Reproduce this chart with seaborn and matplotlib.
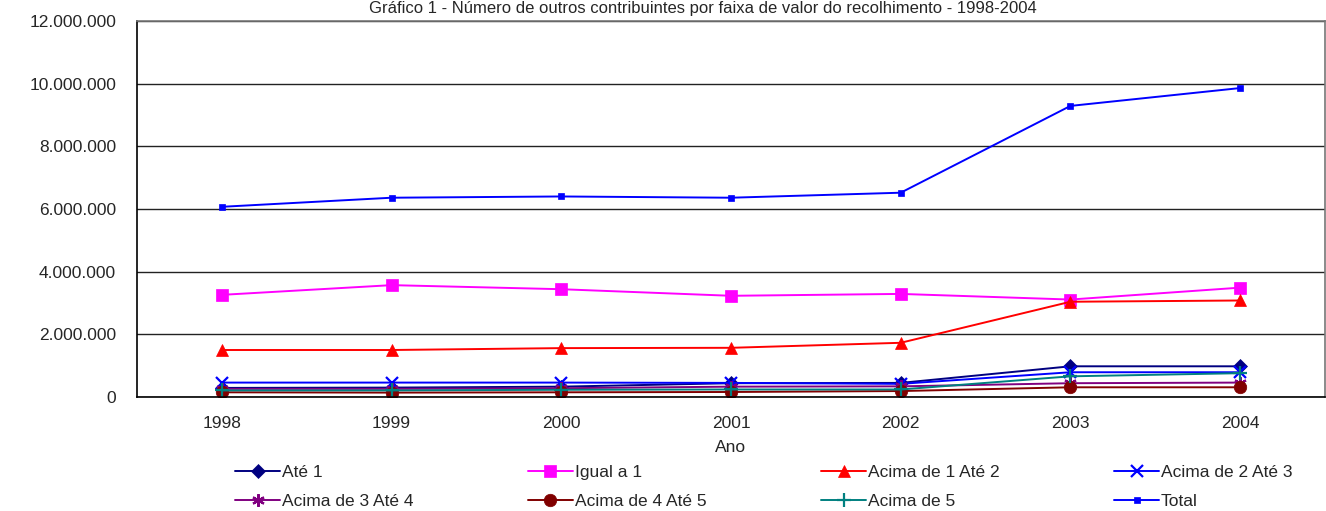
import numpy as np
import pandas as pd
import matplotlib
matplotlib.use("Agg")
import matplotlib.pyplot as plt
import seaborn as sns
from matplotlib.ticker import FuncFormatter, FixedLocator

# Data (in units)
anos = ["1998", "1999", "2000", "2001", "2002", "2003", "2004"]
ate_1 = [290000, 300000, 330000, 440000, 450000, 980000, 980000]
igual_a_1 = [3260000, 3570000, 3440000, 3230000, 3290000, 3110000, 3490000]
acima_1_ate_2 = [1500000, 1500000, 1560000, 1570000, 1730000, 3040000, 3080000]
acima_2_ate_3 = [460000, 460000, 460000, 450000, 420000, 790000, 790000]
acima_3_ate_4 = [260000, 260000, 280000, 330000, 340000, 440000, 460000]
acima_4_ate_5 = [150000, 140000, 150000, 160000, 190000, 310000, 310000]
acima_5 = [210000, 210000, 230000, 240000, 240000, 660000, 760000]
total = [6070000, 6360000, 6400000, 6360000, 6520000, 9290000, 9860000]

series = [
    ("Até 1", ate_1, "#000080", "D", 7),
    ("Igual a 1", igual_a_1, "#FF00FF", "s", 9),
    ("Acima de 1 Até 2", acima_1_ate_2, "#FF0000", "^", 9),
    ("Acima de 2 Até 3", acima_2_ate_3, "#0000FF", "x", 9),
    ("Acima de 3 Até 4", acima_3_ate_4, "#800080", (6, 2, 0), 9),
    ("Acima de 4 Até 5", acima_4_ate_5, "#800000", "o", 9),
    ("Acima de 5", acima_5, "#008080", "+", 10),
    ("Total", total, "#0000FF", "s", 4.5),
]

sns.set_style("white")
plt.rcParams["font.family"] = ["Liberation Sans", "DejaVu Sans"]

fig = plt.figure(figsize=(13.26, 5.11), dpi=100)
ax = fig.add_axes([137 / 1326, 1 - 397 / 511, 1188 / 1326, 376 / 511])

x = np.arange(len(anos))
for nome, vals, cor, mk, ms in series:
    sns.lineplot(x=x, y=vals, ax=ax, color=cor, marker=mk, markersize=ms,
                 markeredgecolor=cor, markeredgewidth=1.6 if mk in ("x", "+", (6, 2, 0)) else 0.5,
                 linewidth=1.4, label=nome)

ax.set_xlim(-0.5, len(anos) - 0.5)
ax.set_ylim(0, 12000000)
ax.set_yticks(np.arange(0, 12000001, 2000000))
ax.yaxis.set_major_formatter(FuncFormatter(lambda v, p: f"{v:,.0f}".replace(",", ".")))
ax.set_xticks(x)
ax.set_xticklabels(anos)
ax.xaxis.set_minor_locator(FixedLocator(np.arange(0.5, len(anos) - 0.5, 1.0)))
ax.tick_params(axis="x", which="major", length=0, pad=14, labelsize=12.5)
ax.tick_params(axis="x", which="minor", length=6, width=1, color="black", direction="out")
ax.tick_params(axis="y", length=5, width=1, color="black", direction="out", pad=10, labelsize=12.5)
ax.grid(axis="y", color="#222222", linewidth=1)
ax.grid(axis="x", visible=False)

for s in ["left", "bottom"]:
    ax.spines[s].set_color("black")
    ax.spines[s].set_linewidth(1.2)
for s in ["top", "right"]:
    ax.spines[s].set_color("#777777")
    ax.spines[s].set_linewidth(1.2)

ax.set_xlabel("Ano", fontsize=12.5, labelpad=6)
ax.set_ylabel("")

fig.text(0.53, 1 - 1 / 511,
         "Gráfico 1 - Número de outros contribuintes por faixa de valor do recolhimento - 1998-2004",
         ha="center", va="top", fontsize=12)

# legend row by row (matplotlib fills columns first)
handles, labels = ax.get_legend_handles_labels()
ax.legend_.remove()
ordem = [0, 4, 1, 5, 2, 6, 3, 7]
fig.legend([handles[i] for i in ordem], [labels[i] for i in ordem], ncol=4, loc="upper left",
           bbox_to_anchor=(228 / 1326, 1 - 458 / 511), frameon=False,
           fontsize=12.5, handlelength=2.6, handletextpad=0.1,
           columnspacing=6.6, labelspacing=0.8, borderaxespad=0)

fig.savefig("out.png", dpi=100)
